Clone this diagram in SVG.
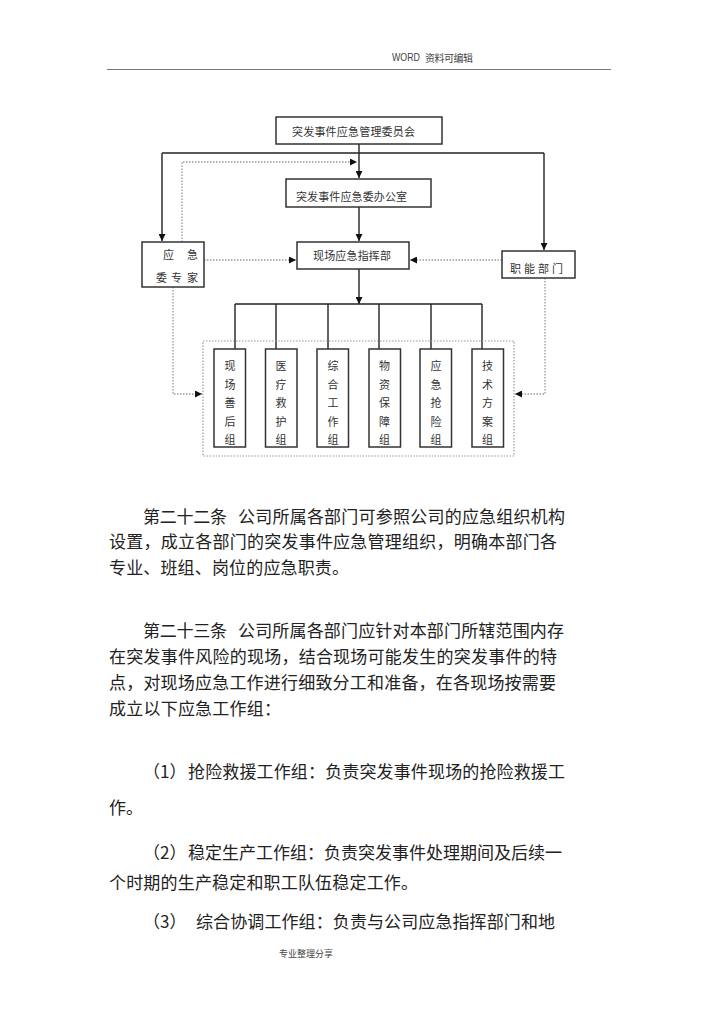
<svg xmlns="http://www.w3.org/2000/svg" width="720" height="1018" viewBox="0 0 720 1018">
<style>
.bg{fill:#fff}
.box{fill:#fff;stroke:#333;stroke-width:1.5}
.dbox{fill:none;stroke:#999;stroke-width:1.2;stroke-dasharray:1.5 1.5}
.solid{fill:none;stroke:#222;stroke-width:1.4}
.dot{fill:none;stroke:#999;stroke-width:1.3;stroke-dasharray:1.5 1.5}
.lbl{font-family:"Noto Sans CJK SC",sans-serif;font-size:11px;fill:#333;dominant-baseline:central}
.body{font-family:"Noto Sans CJK SC",sans-serif;font-size:17px;fill:#222;dominant-baseline:central}
.hdr{font-family:"Liberation Sans","Noto Sans CJK SC",sans-serif;font-size:10.5px;fill:#444;dominant-baseline:central}
</style>
<defs>
<marker id="arr" viewBox="0 0 10 10" refX="10" refY="5" markerWidth="8" markerHeight="7" markerUnits="userSpaceOnUse" orient="auto">
<path d="M0,0 L10,5 L0,10 z" fill="#111"/>
</marker>
</defs>
<rect class="bg" x="0" y="0" width="720" height="1018"/>

<g id="header">
<text class="hdr" x="392" y="57" textLength="28" lengthAdjust="spacingAndGlyphs">WORD</text>
<text class="hdr" x="425" y="57" style="font-family:'Noto Sans CJK SC',sans-serif;font-size:10px" textLength="48">资料可编辑</text>
<line x1="107" y1="69.5" x2="611" y2="69.5" stroke="#777" stroke-width="1.2"/>
</g>

<g id="connectors">
<path class="solid" d="M359,144 V178" marker-end="url(#arr)"/>
<path class="solid" d="M162,153 H544"/>
<path class="solid" d="M162,153 V241" marker-end="url(#arr)"/>
<path class="solid" d="M544,153 V250" marker-end="url(#arr)"/>
<path class="solid" d="M359,207 V241" marker-end="url(#arr)"/>
<path class="solid" d="M359,269 V304" marker-end="url(#arr)"/>
<path class="solid" d="M235,304 H482"/>
<path class="solid" d="M235,304 V349 M276,304 V349 M328,304 V349 M379,304 V349 M431,304 V349 M482,304 V349"/>
<path class="dot" d="M182,242 V162 H357" marker-end="url(#arr)"/>
<path class="dot" d="M204,260 H296" marker-end="url(#arr)"/>
<path class="dot" d="M502,260 H410" marker-end="url(#arr)"/>
<path class="dot" d="M173,287 V394 H202" marker-end="url(#arr)"/>
<path class="dot" d="M545,278 V394 H515" marker-end="url(#arr)"/>
</g>

<g id="committee">
<rect class="box" x="276" y="117" width="166" height="27"/>
<text class="lbl" x="292" y="130.5" textLength="123">突发事件应急管理委员会</text>
</g>
<g id="office">
<rect class="box" x="286" y="179" width="145" height="28"/>
<text class="lbl" x="296" y="195.5" textLength="111">突发事件应急委办公室</text>
</g>
<g id="command">
<rect class="box" x="297" y="242" width="112" height="27"/>
<text class="lbl" x="313" y="254.5" textLength="78">现场应急指挥部</text>
</g>
<g id="experts">
<rect class="box" x="142" y="242" width="62" height="45"/>
<text class="lbl" x="168.5" y="254" text-anchor="middle">应</text>
<text class="lbl" x="192.5" y="254" text-anchor="middle">急</text>
<text class="lbl" x="161.5" y="277" text-anchor="middle">委</text>
<text class="lbl" x="176.5" y="277" text-anchor="middle">专</text>
<text class="lbl" x="192.5" y="277" text-anchor="middle">家</text>
</g>
<g id="functional">
<rect class="box" x="502" y="251" width="73" height="27"/>
<text class="lbl" x="510" y="268" textLength="53">职能部门</text>
</g>

<g id="groups">
<rect class="dbox" x="203" y="341" width="311" height="115"/>
</g>
<g id="g1">
<rect class="box" x="214" y="349" width="31.5" height="98"/>
<text class="lbl" text-anchor="middle"><tspan x="230" y="365">现</tspan><tspan x="230" y="383.5">场</tspan><tspan x="230" y="402">善</tspan><tspan x="230" y="420.5">后</tspan><tspan x="230" y="439">组</tspan></text>
</g>
<g id="g2">
<rect class="box" x="265.5" y="349" width="31.5" height="98"/>
<text class="lbl" text-anchor="middle"><tspan x="281" y="365">医</tspan><tspan x="281" y="383.5">疗</tspan><tspan x="281" y="402">救</tspan><tspan x="281" y="420.5">护</tspan><tspan x="281" y="439">组</tspan></text>
</g>
<g id="g3">
<rect class="box" x="317" y="349" width="31.5" height="98"/>
<text class="lbl" text-anchor="middle"><tspan x="333" y="365">综</tspan><tspan x="333" y="383.5">合</tspan><tspan x="333" y="402">工</tspan><tspan x="333" y="420.5">作</tspan><tspan x="333" y="439">组</tspan></text>
</g>
<g id="g4">
<rect class="box" x="369" y="349" width="31.5" height="98"/>
<text class="lbl" text-anchor="middle"><tspan x="384.5" y="365">物</tspan><tspan x="384.5" y="383.5">资</tspan><tspan x="384.5" y="402">保</tspan><tspan x="384.5" y="420.5">障</tspan><tspan x="384.5" y="439">组</tspan></text>
</g>
<g id="g5">
<rect class="box" x="420" y="349" width="31.5" height="98"/>
<text class="lbl" text-anchor="middle"><tspan x="436" y="365">应</tspan><tspan x="436" y="383.5">急</tspan><tspan x="436" y="402">抢</tspan><tspan x="436" y="420.5">险</tspan><tspan x="436" y="439">组</tspan></text>
</g>
<g id="g6">
<rect class="box" x="472" y="349" width="31.5" height="98"/>
<text class="lbl" text-anchor="middle"><tspan x="487.5" y="365">技</tspan><tspan x="487.5" y="383.5">术</tspan><tspan x="487.5" y="402">方</tspan><tspan x="487.5" y="420.5">案</tspan><tspan x="487.5" y="439">组</tspan></text>
</g>

<g id="body">
<text class="body" x="143" y="515" textLength="84">第二十二条</text>
<text class="body" x="238" y="515" textLength="327">公司所属各部门可参照公司的应急组织机构</text>
<text class="body" x="109" y="540.5" textLength="448">设置，成立各部门的突发事件应急管理组织，明确本部门各</text>
<text class="body" x="109" y="566.5" textLength="240">专业、班组、岗位的应急职责。</text>

<text class="body" x="143" y="629" textLength="84">第二十三条</text>
<text class="body" x="238" y="629" textLength="326">公司所属各部门应针对本部门所辖范围内存</text>
<text class="body" x="109" y="655.5" textLength="448">在突发事件风险的现场，结合现场可能发生的突发事件的特</text>
<text class="body" x="109" y="681.5" textLength="447">点，对现场应急工作进行细致分工和准备，在各现场按需要</text>
<text class="body" x="109" y="707.5" textLength="172">成立以下应急工作组：</text>

<text class="body" x="143" y="770">（1）</text>
<text class="body" x="188" y="770" textLength="377">抢险救援工作组：负责突发事件现场的抢险救援工</text>
<text class="body" x="109" y="806.5">作。</text>
<text class="body" x="143" y="851.5">（2）</text>
<text class="body" x="188" y="851.5" textLength="374">稳定生产工作组：负责突发事件处理期间及后续一</text>
<text class="body" x="109" y="881.5" textLength="309">个时期的生产稳定和职工队伍稳定工作。</text>
<text class="body" x="143" y="920">（3）</text>
<text class="body" x="196" y="920" textLength="359">综合协调工作组：负责与公司应急指挥部门和地</text>
</g>

<g id="footer">
<text class="hdr" x="279" y="953" style="font-family:'Noto Sans CJK SC',sans-serif;font-size:9px" textLength="54">专业整理分享</text>
</g>
</svg>
